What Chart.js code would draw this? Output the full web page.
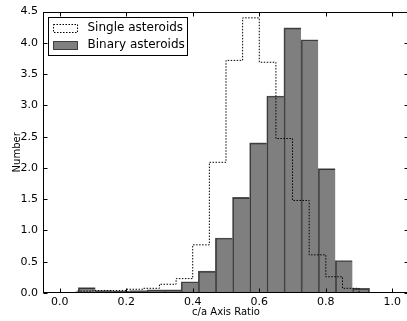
<!DOCTYPE html>
<html><head><meta charset="utf-8">
<script src="https://cdn.jsdelivr.net/npm/chart.js@4.4.0/dist/chart.umd.min.js"></script>
<style>
html,body{margin:0;padding:0;background:#fff;overflow:hidden;width:407px;height:321px;}
#wrap{position:absolute;left:0;top:0;width:410px;height:321px;}
</style></head><body>
<div id="wrap"><canvas id="c" width="410" height="321"></canvas></div>
<script>
const singleLabel = 'Single asteroids';
const binaryLabel = 'Binary asteroids';
const xTitle = 'c/a Axis Ratio';
const yTitle = 'Number';
const singleBinStart = 0.05;
const singleBinWidth = 0.05;
const singleCounts = [0.03, 0.04, 0.04, 0.06, 0.075, 0.14, 0.23, 0.77, 2.09, 3.72, 4.40, 3.69, 2.47, 1.48, 0.61, 0.26, 0.075];
const binaryBinStart = 0.056;
const binaryBinWidth = 0.0515;
const binaryCounts = [0.085, 0.04, 0.03, 0.04, 0.05, 0.05, 0.18, 0.35, 0.88, 1.53, 2.40, 3.15, 4.24, 4.05, 1.99, 0.52, 0.075];
const xTicks = [0.0, 0.2, 0.4, 0.6, 0.8, 1.0];
const yTicks = [0.0, 0.5, 1.0, 1.5, 2.0, 2.5, 3.0, 3.5, 4.0, 4.5];
const xRange = [-0.05, 1.05];
const yRange = [0, 4.5];

// step outline for the single histogram
const singleStep = [{x: singleBinStart, y: 0}];
singleCounts.forEach((v, i) => singleStep.push({x: singleBinStart + i * singleBinWidth, y: v}));
singleStep.push({x: singleBinStart + singleCounts.length * singleBinWidth, y: 0});

const binaryBars = binaryCounts.map((v, i) => ({x: binaryBinStart + (i + 0.5) * binaryBinWidth, y: v}));

const FONT = 'DejaVu Sans';
const binaryFill = 'rgba(0,0,0,0.5)';
const binaryEdge = 'rgba(0,0,0,0.68)';
const singleDash = [1.5, 1.5];

const framePlugin = {
  id: 'frame',
  afterDraw(chart) {
    const ctx = chart.ctx;
    const a = chart.chartArea;
    const xs = chart.scales.x, ys = chart.scales.y;
    const L = Math.round(a.left) + 0.5, R = Math.round(a.right) - 0.5;
    const T = Math.round(a.top) + 0.5, B = Math.round(a.bottom) - 0.5;
    ctx.save();
    ctx.strokeStyle = '#000';
    ctx.lineWidth = 1;
    ctx.setLineDash([]);
    ctx.strokeRect(L, T, R - L, B - T);
    const tl = 4;
    ctx.beginPath();
    xTicks.forEach(v => {
      const px = Math.round(xs.getPixelForValue(v)) + 0.5;
      ctx.moveTo(px, B); ctx.lineTo(px, B - tl);
      ctx.moveTo(px, T); ctx.lineTo(px, T + tl);
    });
    yTicks.forEach(v => {
      const py = Math.round(ys.getPixelForValue(v)) + 0.5;
      ctx.moveTo(L, py); ctx.lineTo(L + tl, py);
      ctx.moveTo(R, py); ctx.lineTo(R - tl, py);
    });
    ctx.stroke();

    // legend
    const ds = chart.data.datasets;
    const bx = Math.round(a.left + 5) + 0.5, by = Math.round(a.top + 5) + 0.5;
    const bw = 139, bh = 38;
    ctx.fillStyle = '#fff';
    ctx.fillRect(bx, by, bw, bh);
    ctx.strokeStyle = '#000';
    ctx.strokeRect(bx, by, bw, bh);
    ctx.font = '12px "' + FONT + '"';
    ctx.textBaseline = 'middle';
    ctx.textAlign = 'left';
    [0, 1].forEach((k, row) => {
      const d = ds[k];
      const cy = by + 10 + row * 17;
      const px = bx + 5, pw = 24, ph = 8;
      const py = Math.round(cy - ph / 2) + 0.5;
      if (d.type === 'line') {
        ctx.fillStyle = '#fff';
        ctx.fillRect(px, py, pw, ph);
        ctx.setLineDash(singleDash);
        ctx.strokeStyle = '#000';
        ctx.strokeRect(px, py, pw, ph);
        ctx.setLineDash([]);
      } else {
        ctx.fillStyle = binaryFill;
        ctx.fillRect(px, py, pw, ph);
        ctx.strokeStyle = binaryEdge;
        ctx.strokeRect(px, py, pw, ph);
      }
      ctx.fillStyle = '#000';
      ctx.fillText(d.label, bx + 39, cy);
    });
    ctx.restore();
  }
};

new Chart(document.getElementById('c'), {
  type: 'bar',
  data: {
    datasets: [
      {
        type: 'line',
        label: singleLabel,
        data: singleStep,
        stepped: 'before',
        borderColor: '#000',
        borderWidth: 1,
        borderDash: singleDash,
        pointRadius: 0,
        fill: false,
        tension: 0,
        order: 2
      },
      {
        type: 'bar',
        label: binaryLabel,
        data: binaryBars,
        backgroundColor: binaryFill,
        borderColor: binaryEdge,
        borderWidth: c => ({top: 1, left: 1, bottom: 0, right: c.dataIndex === binaryCounts.length - 1 ? 1 : 0}),
        borderSkipped: false,
        barPercentage: 1,
        categoryPercentage: 1,
        order: 1
      }
    ]
  },
  options: {
    responsive: false,
    devicePixelRatio: 1,
    animation: false,
    layout: {padding: {top: 9, right: 1, left: 0, bottom: 0}},
    plugins: {legend: {display: false}, tooltip: {enabled: false}},
    scales: {
      x: {
        type: 'linear', min: xRange[0], max: xRange[1], offset: false,
        grid: {display: false, drawTicks: false},
        border: {display: false},
        afterBuildTicks: s => { s.ticks = xTicks.map(v => ({value: v})); },
        afterFit: s => { s.height = 28; },
        ticks: {
          callback: v => Number(v).toFixed(1), color: '#000', padding: 3,
          maxRotation: 0, autoSkip: false,
          font: {family: FONT, size: 11}
        },
        title: {display: true, text: xTitle, color: '#000', font: {family: FONT, size: 10}, padding: {top: 0, bottom: 3}}
      },
      y: {
        type: 'linear', min: yRange[0], max: yRange[1],
        grid: {display: false, drawTicks: false},
        border: {display: false},
        afterBuildTicks: s => { s.ticks = yTicks.map(v => ({value: v})); },
        afterFit: s => { s.width = 43; },
        ticks: {
          callback: v => Number(v).toFixed(1), color: '#000', padding: 5,
          autoSkip: false,
          font: {family: FONT, size: 11}
        },
        title: {display: true, text: yTitle, color: '#000', font: {family: FONT, size: 10}, padding: {top: 11, bottom: 0}}
      }
    }
  },
  plugins: [framePlugin]
});
</script>
</body></html>
